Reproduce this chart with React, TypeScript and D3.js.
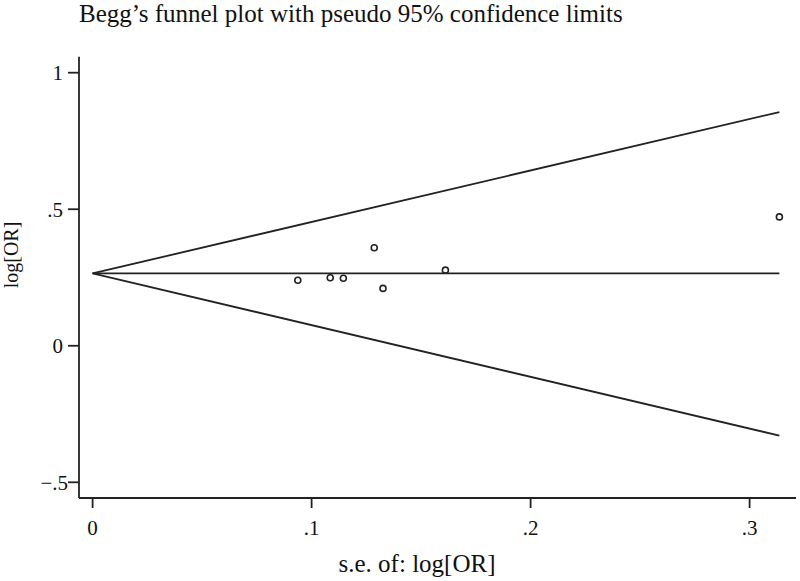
import React from "react";
import * as d3 from "d3";

const seValues = [0.0937, 0.1085, 0.1145, 0.1286, 0.1326, 0.1611, 0.3136];
const logOR = [0.24, 0.249, 0.247, 0.359, 0.21, 0.277, 0.472];
const pooled = 0.265;
const funnelSE = [0, 0.3136];
const funnelUpper = [0.265, 0.856];
const funnelLower = [0.265, -0.329];
const xTicks = [0, 0.1, 0.2, 0.3];
const xTickLabels = ["0", ".1", ".2", ".3"];
const yTicks = [1, 0.5, 0, -0.5];
const yTickLabels = ["1", ".5", "0", "\u2212.5"];

export default function App() {
  const W = 800, H = 581;
  const x = d3.scaleLinear().domain([0, 0.3]).range([92.6, 749.6]);
  const y = d3.scaleLinear().domain([-0.5, 1]).range([482.3, 72.7]);
  const left = 79, right = 796, top = 56.7, bottom = 498;
  const line = d3.line<[number, number]>().x(d => x(d[0])).y(d => y(d[1]));
  const upper: [number, number][] = funnelSE.map((s, i) => [s, funnelUpper[i]]);
  const lower: [number, number][] = funnelSE.map((s, i) => [s, funnelLower[i]]);
  const mid: [number, number][] = funnelSE.map(s => [s, pooled]);
  const stroke = "#222";
  const font = "'Liberation Serif', 'Times New Roman', serif";
  return (
    <svg width={W} height={H} style={{ position: "absolute", left: 0, top: 0, background: "#fff" }} fontFamily={font}>
      <rect width={W} height={H} fill="#fff" />
      <text x={79} y={22} fontSize={25} fill="#111">Begg’s funnel plot with pseudo 95% confidence limits</text>
      {/* axes */}
      <line x1={left} x2={left} y1={top} y2={bottom} stroke={stroke} strokeWidth={1.8} />
      <line x1={left} x2={right} y1={bottom} y2={bottom} stroke={stroke} strokeWidth={1.8} />
      {yTicks.map((t, i) => (
        <g key={"y" + i}>
          <line x1={left - 11} x2={left} y1={y(t)} y2={y(t)} stroke={stroke} strokeWidth={1.8} />
          <text x={t < 0 ? 68 : 63} y={y(t)} dy="0.35em" textAnchor="end" fontSize={21} fill="#111">{yTickLabels[i]}</text>
        </g>
      ))}
      {xTicks.map((t, i) => (
        <g key={"x" + i}>
          <line x1={x(t)} x2={x(t)} y1={bottom} y2={bottom + 10} stroke={stroke} strokeWidth={1.8} />
          <text x={x(t)} y={535} textAnchor="middle" fontSize={21} fill="#111">{xTickLabels[i]}</text>
        </g>
      ))}
      <text x={417} y={572} textAnchor="middle" fontSize={25} fill="#111">s.e. of: log[OR]</text>
      <text transform="translate(18,255) rotate(-90)" textAnchor="middle" fontSize={20} fill="#111">log[OR]</text>
      {/* funnel */}
      <path d={line(upper) || ""} fill="none" stroke={stroke} strokeWidth={1.8} />
      <path d={line(lower) || ""} fill="none" stroke={stroke} strokeWidth={1.8} />
      <path d={line(mid) || ""} fill="none" stroke={stroke} strokeWidth={1.8} />
      {seValues.map((s, i) => (
        <circle key={"p" + i} cx={x(s)} cy={y(logOR[i])} r={3} fill="none" stroke={stroke} strokeWidth={1.6} />
      ))}
    </svg>
  );
}
